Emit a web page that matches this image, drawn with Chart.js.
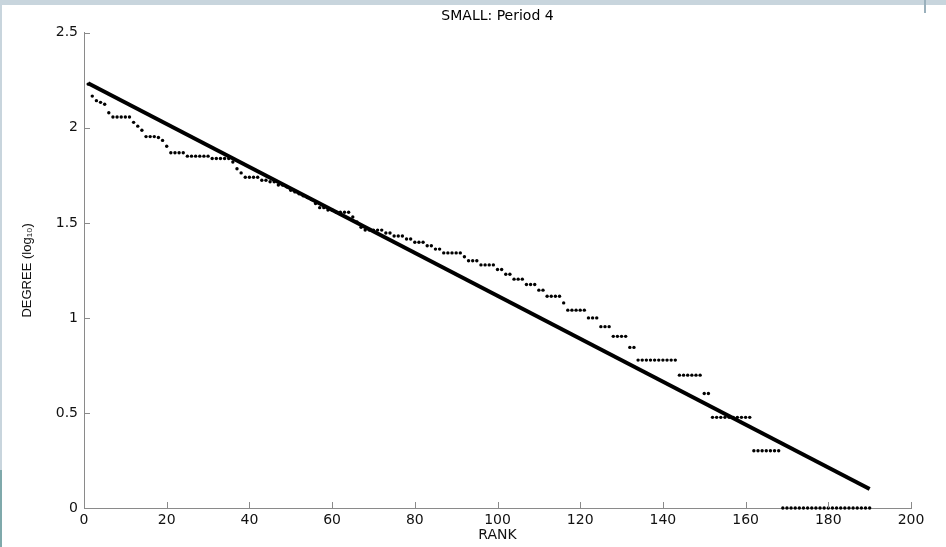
<!DOCTYPE html>
<html>
<head>
<meta charset="utf-8">
<script src="https://cdn.jsdelivr.net/npm/chart.js@4.4.1/dist/chart.umd.min.js"></script>
<style>
  body { margin: 0; background: #fff; }
  #wrap { position: relative; width: 946px; height: 547px; overflow: hidden; }
  #topbar { position: absolute; left: 0; top: 0; width: 946px; height: 5px; background: #c8d5dd; }
  #leftbar { position: absolute; left: 0; top: 0; width: 2px; height: 547px; background: #c8d5dd; }
  #leftbar2 { position: absolute; left: 0; top: 470px; width: 2px; height: 77px; background: #7fa9ab; }
  #rightmark { position: absolute; left: 924px; top: 0; width: 2px; height: 13px; background: #9ab0bc; }
  canvas { position: absolute; left: 0; top: 0; }
</style>
</head>
<body>
<div id="wrap">
  <canvas id="grafico" width="946" height="547"></canvas>
  <div id="topbar"></div>
  <div id="leftbar"></div>
  <div id="leftbar2"></div>
  <div id="rightmark"></div>
</div>
<script>
// DADOS
var titulo = 'SMALL: Period 4';
var xTitulo = 'RANK';
var yTitulo = 'DEGREE (log\u2081\u2080)';

var xTicks = [0, 20, 40, 60, 80, 100, 120, 140, 160, 180, 200];
var yTicks = [0, 0.5, 1, 1.5, 2, 2.5];
var yTickLabels = ['0', '0.5', '1', '1.5', '2', '2.5'];

// log10 degree by rank (rank 1..190)
var degreeLog = [
  2.230, 2.167, 2.143, 2.134, 2.124, 2.079, 2.057, 2.057, 2.057, 2.057,
  2.057, 2.029, 2.009, 1.987, 1.954, 1.954, 1.954, 1.949, 1.934, 1.903,
  1.869, 1.869, 1.869, 1.869, 1.851, 1.851, 1.851, 1.851, 1.851, 1.851,
  1.839, 1.839, 1.839, 1.839, 1.839, 1.820, 1.785, 1.763, 1.740, 1.740,
  1.740, 1.740, 1.724, 1.724, 1.716, 1.716, 1.699, 1.699, 1.690, 1.672,
  1.663, 1.653, 1.643, 1.633, 1.623, 1.602, 1.580, 1.580, 1.568, 1.568,
  1.556, 1.556, 1.556, 1.556, 1.531, 1.505, 1.477, 1.462, 1.462, 1.462,
  1.462, 1.462, 1.447, 1.447, 1.431, 1.431, 1.431, 1.415, 1.415, 1.398,
  1.398, 1.398, 1.380, 1.380, 1.362, 1.362, 1.342, 1.342, 1.342, 1.342,
  1.342, 1.322, 1.301, 1.301, 1.301, 1.279, 1.279, 1.279, 1.279, 1.255,
  1.255, 1.230, 1.230, 1.204, 1.204, 1.204, 1.176, 1.176, 1.176, 1.146,
  1.146, 1.114, 1.114, 1.114, 1.114, 1.079, 1.041, 1.041, 1.041, 1.041,
  1.041, 1.000, 1.000, 1.000, 0.954, 0.954, 0.954, 0.903, 0.903, 0.903,
  0.903, 0.845, 0.845, 0.778, 0.778, 0.778, 0.778, 0.778, 0.778, 0.778,
  0.778, 0.778, 0.778, 0.699, 0.699, 0.699, 0.699, 0.699, 0.699, 0.602,
  0.602, 0.477, 0.477, 0.477, 0.477, 0.477, 0.477, 0.477, 0.477, 0.477,
  0.477, 0.301, 0.301, 0.301, 0.301, 0.301, 0.301, 0.301, 0, 0,
  0, 0, 0, 0, 0, 0, 0, 0, 0, 0,
  0, 0, 0, 0, 0, 0, 0, 0, 0, 0
];

// fitted line end points
var lineX = [1, 190];
var lineY = [2.235, 0.100];

// GRÁFICO
var pontos = degreeLog.map(function (v, i) { return { x: i + 1, y: v }; });
var reta = lineX.map(function (v, i) { return { x: v, y: lineY[i] }; });

var corEixo = '#8a8a8a';
var fonteH = { family: 'DejaVu Sans', size: 14 };

// MATLAB style inward tick marks
var ticksDentro = {
  id: 'ticksDentro',
  afterDraw: function (chart) {
    var ctx = chart.ctx, a = chart.chartArea;
    var sx = chart.scales.x, sy = chart.scales.y;
    ctx.save();
    ctx.strokeStyle = corEixo;
    ctx.lineWidth = 1;
    ctx.beginPath();
    sx.ticks.forEach(function (t) {
      var px = Math.round(sx.getPixelForValue(t.value)) + 0.5;
      ctx.moveTo(px, a.bottom);
      ctx.lineTo(px, a.bottom - 6);
    });
    sy.ticks.forEach(function (t) {
      var py = Math.round(sy.getPixelForValue(t.value)) + 0.5;
      ctx.moveTo(a.left, py);
      ctx.lineTo(a.left + 6, py);
    });
    ctx.stroke();
    ctx.restore();
  }
};

new Chart(document.getElementById('grafico'), {
  type: 'scatter',
  data: {
    datasets: [{
      label: 'fit',
      data: reta,
      showLine: true,
      borderColor: '#000',
      borderWidth: 4,
      pointRadius: 0,
      order: 0,
      clip: false
    }, {
      label: 'degree',
      data: pontos,
      backgroundColor: '#000',
      borderWidth: 0,
      pointRadius: 1.7,
      order: 1,
      clip: false
    }]
  },
  options: {
    responsive: false,
    animation: false,
    layout: { padding: { top: 0, right: 35, left: 0, bottom: 0 } },
    plugins: {
      legend: { display: false },
      tooltip: { enabled: false },
      title: {
        display: true,
        text: titulo,
        fullSize: false,
        color: '#000',
        font: { family: 'DejaVu Sans', size: 14, weight: 'normal' },
        padding: { top: 8, bottom: 8 }
      }
    },
    scales: {
      x: {
        type: 'linear',
        min: 0, max: 200,
        afterBuildTicks: function (s) { s.ticks = xTicks.map(function (v) { return { value: v }; }); },
        afterFit: function (s) { s.height = 39; },
        ticks: { color: '#111', font: fonteH, padding: 4, maxRotation: 0 },
        grid: { display: true, drawOnChartArea: false, drawTicks: false },
        border: { color: corEixo, width: 1 },
        title: { display: true, text: xTitulo, color: '#111', font: fonteH, padding: { top: 0, bottom: 3 } }
      },
      y: {
        type: 'linear',
        min: 0, max: 2.5,
        afterBuildTicks: function (s) { s.ticks = yTicks.map(function (v) { return { value: v }; }); },
        afterFit: function (s) { s.width = 84; },
        ticks: {
          color: '#111', font: fonteH, padding: 6,
          callback: function (v) { return yTickLabels[yTicks.indexOf(v)]; }
        },
        grid: { display: true, drawOnChartArea: false, drawTicks: false },
        border: { color: corEixo, width: 1 },
        title: { display: true, text: yTitulo, color: '#111', font: { family: 'Liberation Sans', size: 13 }, padding: { top: 20, bottom: 0 } }
      }
    }
  },
  plugins: [ticksDentro]
});
</script>
</body>
</html>
